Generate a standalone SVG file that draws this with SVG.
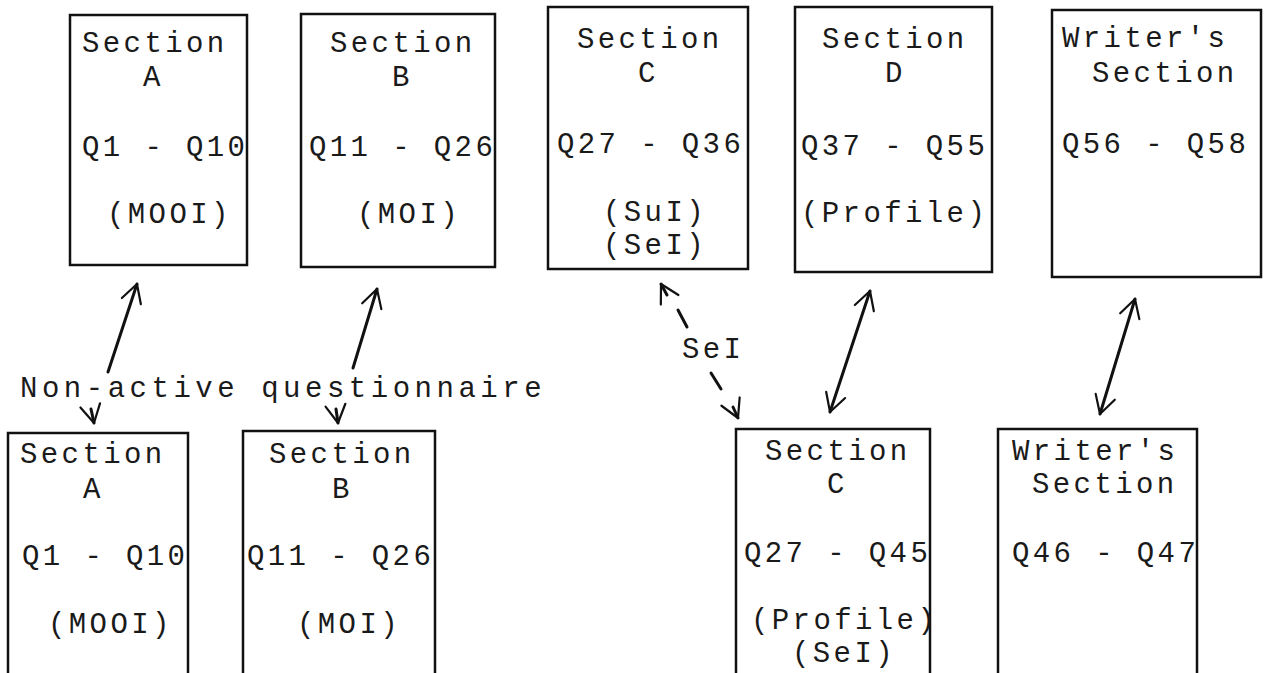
<svg xmlns="http://www.w3.org/2000/svg" width="1264" height="673" viewBox="0 0 1264 673">
<style>
.box{fill:none;stroke:#111;stroke-width:2.5}
.t{font-family:"Liberation Mono","DejaVu Sans Mono",monospace;font-size:29px;letter-spacing:3.4px;fill:#1a1a1a}
.c{fill:none;stroke:#111;stroke-width:3;stroke-linecap:round}
</style>
<defs>
<marker id="ah" markerUnits="userSpaceOnUse" markerWidth="40" markerHeight="40" viewBox="-20 -20 40 40" refX="0" refY="0" orient="auto-start-reverse">
<path d="M-18,-10 L0,0 L-18,10" fill="none" stroke="#111" stroke-width="2.2" stroke-linecap="round" stroke-linejoin="round"/>
</marker>
</defs>
<rect width="1264" height="673" fill="#fff"/>

<g id="topA"><rect class="box" x="70" y="15" width="177" height="250"/>
<text class="t" x="82" y="52">Section</text><text class="t" x="143" y="86">A</text><text class="t" x="82" y="156">Q1 - Q10</text><text class="t" x="107" y="223">(MOOI)</text></g>

<g id="topB"><rect class="box" x="301" y="14" width="194" height="253"/>
<text class="t" x="330" y="52">Section</text><text class="t" x="392" y="86">B</text><text class="t" x="309" y="156">Q11 - Q26</text><text class="t" x="357" y="223">(MOI)</text></g>

<g id="topC"><rect class="box" x="548" y="7" width="200" height="262"/>
<text class="t" x="577" y="48">Section</text><text class="t" x="638" y="82">C</text><text class="t" x="557" y="153">Q27 - Q36</text><text class="t" x="603" y="221">(SuI)</text><text class="t" x="603" y="254">(SeI)</text></g>

<g id="topD"><rect class="box" x="795" y="7" width="197" height="265"/>
<text class="t" x="822" y="48">Section</text><text class="t" x="885" y="82">D</text><text class="t" x="801" y="155">Q37 - Q55</text><text class="t" x="801" y="222">(Profile)</text></g>

<g id="topW"><rect class="box" x="1052" y="10" width="209" height="267"/>
<text class="t" x="1062" y="47">Writer's</text><text class="t" x="1092" y="82">Section</text><text class="t" x="1062" y="153">Q56 - Q58</text></g>

<g id="botA"><rect class="box" x="8" y="433" width="180" height="250"/>
<text class="t" x="20" y="463">Section</text><text class="t" x="83" y="498">A</text><text class="t" x="22" y="565">Q1 - Q10</text><text class="t" x="48" y="633">(MOOI)</text></g>

<g id="botB"><rect class="box" x="243" y="431" width="192" height="252"/>
<text class="t" x="269" y="463">Section</text><text class="t" x="332" y="498">B</text><text class="t" x="247" y="565">Q11 - Q26</text><text class="t" x="297" y="633">(MOI)</text></g>

<g id="botC"><rect class="box" x="736" y="429" width="194" height="254"/>
<text class="t" x="765" y="460">Section</text><text class="t" x="827" y="493">C</text><text class="t" x="744" y="562">Q27 - Q45</text><text class="t" x="751" y="629">(Profile)</text><text class="t" x="792" y="662">(SeI)</text></g>

<g id="botW"><rect class="box" x="998" y="429" width="199" height="254"/>
<text class="t" x="1012" y="460">Writer's</text><text class="t" x="1032" y="493">Section</text><text class="t" x="1012" y="562">Q46 - Q47</text></g>

<g id="labels">
<text class="t" x="20" y="397" textLength="525" lengthAdjust="spacing">Non-active questionnaire</text>
<text class="t" x="682" y="358">SeI</text>
</g>

<g id="connectors">
<line class="c" x1="108" y1="372" x2="137" y2="284" marker-end="url(#ah)"/>
<line class="c" x1="91" y1="409" x2="94" y2="423" marker-end="url(#ah)"/>
<line class="c" x1="353" y1="368" x2="377" y2="289" marker-end="url(#ah)"/>
<line class="c" x1="336" y1="409" x2="338" y2="423" marker-end="url(#ah)"/>
<g id="selink">
<line class="c" x1="667" y1="295" x2="661" y2="284" marker-end="url(#ah)"/>
<line class="c" x1="678" y1="310" x2="687" y2="327"/>
<line class="c" x1="711" y1="373" x2="721" y2="389"/>
<line class="c" x1="733" y1="407" x2="738" y2="418" marker-end="url(#ah)"/>
</g>
<line class="c" x1="870" y1="291" x2="830" y2="412" marker-start="url(#ah)" marker-end="url(#ah)"/>
<line class="c" x1="1135" y1="299" x2="1100" y2="414" marker-start="url(#ah)" marker-end="url(#ah)"/>
</g>
</svg>
